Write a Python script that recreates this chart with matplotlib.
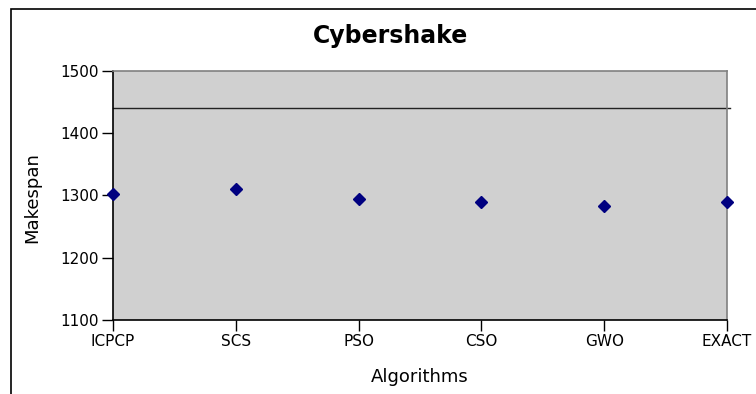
import matplotlib
matplotlib.use('Agg')
import matplotlib.pyplot as plt
from matplotlib.patches import Rectangle
import numpy as np

# makespan per algorithm, Cybershake workflow
algorithms = ['ICPCP', 'SCS', 'PSO', 'CSO', 'GWO', 'EXACT']
makespan = [1302, 1311, 1295, 1290, 1283, 1290]
deadline = 1440
yticks = [1100, 1200, 1300, 1400, 1500]

plt.rcParams['font.family'] = ['DejaVu Sans']

fig = plt.figure(figsize=(7.56, 3.94), dpi=100)
W, H = 756, 394
ax = fig.add_axes([113 / W, 1 - 320 / H, (727 - 113) / W, (320 - 71) / H])

ax.set_facecolor('#d0d0d0')
x = np.arange(len(algorithms))
ax.axhline(deadline, color='#222222', lw=1.0, clip_on=False, xmax=1.005)
ax.plot(x, makespan, linestyle='none', marker='D', ms=6.5, color='#000080',
        clip_on=False, zorder=5)

ax.set_xlim(0, len(algorithms) - 1)
ax.set_ylim(1100, 1500)
ax.set_xticks(x)
ax.set_xticklabels(algorithms, fontsize=11)
ax.set_yticks(yticks)
ax.set_yticklabels([str(v) for v in yticks], fontsize=11)
ax.tick_params(axis='both', direction='out', length=8, width=1, color='black')
ax.tick_params(axis='x', pad=2)
ax.tick_params(axis='y', pad=2)

for side in ['left', 'bottom']:
    ax.spines[side].set_color('black')
    ax.spines[side].set_linewidth(1.2)
for side in ['top', 'right']:
    ax.spines[side].set_color('#808080')
    ax.spines[side].set_linewidth(1.2)

fig.text(391 / W, 1 - 36 / H, 'Cybershake', ha='center', va='center',
         fontsize=17, fontweight='bold')
fig.text(420 / W, 1 - 377 / H, 'Algorithms', ha='center', va='center',
         fontsize=13)
fig.text(32 / W, 1 - 198 / H, 'Makespan', ha='center', va='center',
         fontsize=13, rotation=90)

# outer chart frame, right side runs off the canvas
fig.patches.append(Rectangle((11 / W, -0.01), 1.0, 1 - 9 / H + 0.01,
                             transform=fig.transFigure, fill=False,
                             edgecolor='black', lw=1.2))

fig.savefig('out.png', dpi=100)
